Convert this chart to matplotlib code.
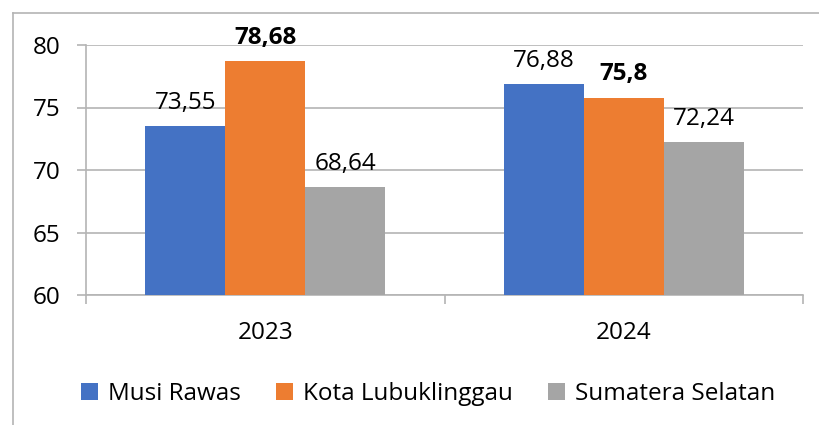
import matplotlib
matplotlib.use("Agg")
import matplotlib.pyplot as plt
from matplotlib.lines import Line2D
import numpy as np

plt.rcParams["font.family"] = ["Open Sans", "DejaVu Sans"]

# data
years = ["2023", "2024"]
series = ["Musi Rawas", "Kota Lubuklinggau", "Sumatera Selatan"]
musi_rawas = [73.55, 76.88]
kota_lubuklinggau = [78.68, 75.8]
sumatera_selatan = [68.64, 72.24]
values = [musi_rawas, kota_lubuklinggau, sumatera_selatan]
bold_series = [False, True, False]

colors = ["#4472C4", "#ED7D31", "#A5A5A5"]
grid_col = "#B4B4B4"
fs = 17.5

W, H = 819, 425
fig = plt.figure(figsize=(W / 100, H / 100), dpi=100)
ax = fig.add_axes([86 / W, 1 - 295 / H, (803 - 86) / W, (295 - 45) / H])

# outer frame (only top and left visible in the crop)
fig.add_artist(Line2D([13 / W, 13 / W], [0, 1 - 13 / H], transform=fig.transFigure,
                      color=grid_col, lw=1.2))
fig.add_artist(Line2D([13 / W, 1], [1 - 13 / H, 1 - 13 / H], transform=fig.transFigure,
                      color=grid_col, lw=1.2))

x = np.arange(len(years))
w = 0.67 / 3
handles = []
for i, (name, vals) in enumerate(zip(series, values)):
    bars = ax.bar(x + (i - 1) * w, vals, width=w, color=colors[i], label=name, zorder=3)
    handles.append(bars)
    labels = [f"{v:g}".replace(".", ",") for v in vals]
    ax.bar_label(bars, labels=labels, padding=8, fontsize=fs,
                 fontweight="bold" if bold_series[i] else "normal", clip_on=False)

ax.set_xlim(-0.5, 1.5)
ax.set_ylim(60, 80)
ax.set_yticks([60, 65, 70, 75, 80])
ax.yaxis.grid(True, color=grid_col, lw=1.2, zorder=0)
ax.tick_params(axis="y", length=6.5, width=1.2, color=grid_col, pad=12, labelsize=fs)

# category labels at centers, boundary ticks
ax.set_xticks(x)
ax.set_xticklabels(years)
ax.set_xticks([-0.5, 0.5, 1.5], minor=True)
ax.tick_params(axis="x", which="major", length=0, pad=19, labelsize=fs)
ax.tick_params(axis="x", which="minor", length=6.5, width=1.2, color=grid_col)

for s in ["top", "right"]:
    ax.spines[s].set_visible(False)
for s in ["left", "bottom"]:
    ax.spines[s].set_color(grid_col)
    ax.spines[s].set_linewidth(1.2)

fig.legend(handles=handles, labels=series, loc="center", bbox_to_anchor=(428 / W, 1 - 394 / H),
           ncol=3, frameon=False, fontsize=fs, handlelength=0.7, handleheight=0.7,
           handletextpad=0.4, columnspacing=1.45)

fig.savefig("out.png", dpi=100)
